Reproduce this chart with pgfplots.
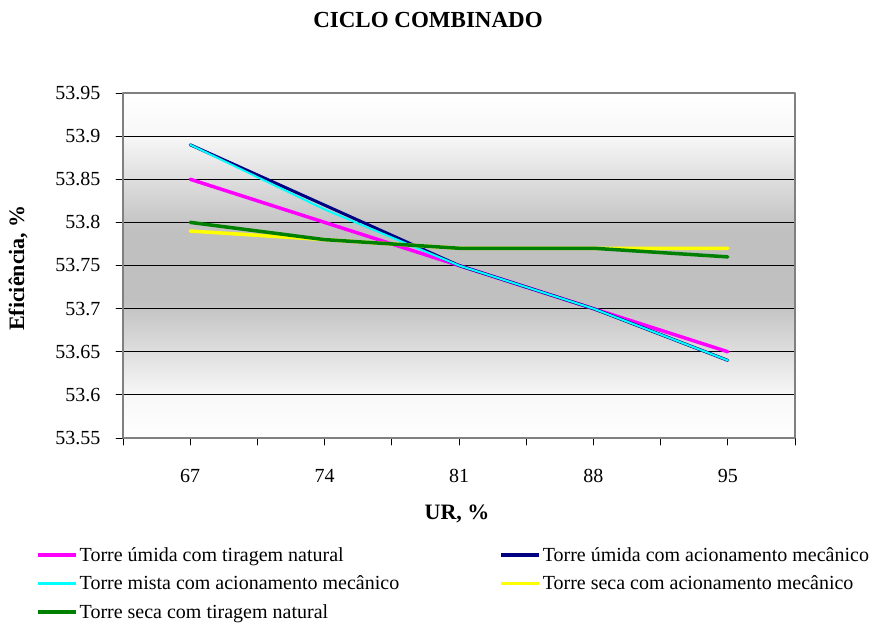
\documentclass[border=0pt]{standalone}
\usepackage{fontspec}
\setmainfont{Liberation Serif}
\usepackage{pgfplots}
\pgfplotsset{compat=1.18}
\definecolor{bggray}{RGB}{192,192,192}
\definecolor{bglight}{RGB}{248,248,248}
\definecolor{cmag}{RGB}{255,0,255}
\definecolor{cnavy}{RGB}{0,0,128}
\definecolor{ccyan}{RGB}{0,255,255}
\definecolor{cyel}{RGB}{255,255,0}
\definecolor{cgreen}{RGB}{0,128,0}
\pgfdeclareverticalshading{bgshade}{100bp}{color(0bp)=(white); color(25bp)=(white); color(31bp)=(bglight); color(45bp)=(bggray); color(55bp)=(bggray); color(69bp)=(bglight); color(75bp)=(white); color(100bp)=(white)}
\begin{document}
\begin{tikzpicture}
\useasboundingbox (-123pt,-186pt) rectangle (754pt,438pt);
\begin{axis}[
 at={(0pt,0pt)}, anchor=south west,
 scale only axis, width=672pt, height=345pt,
 xmin=-0.5, xmax=4.5, ymin=53.55, ymax=53.95,
 xtick={0,1,2,3,4}, xticklabels={67,74,81,88,95},
 minor xtick={-0.5,0.5,1.5,2.5,3.5,4.5},
 ytick={53.55,53.6,53.65,53.7,53.75,53.8,53.85,53.9,53.95},
 yticklabels={53.55,53.6,53.65,53.7,53.75,53.8,53.85,53.9,53.95},
 tick align=outside, xtick pos=bottom, ytick pos=left,
 major tick length=7pt, minor tick length=7pt,
 every tick/.style={black, line width=0.8pt},
 every minor tick/.style={black, line width=0.8pt},
 ymajorgrids, major grid style={black, line width=0.8pt},
 axis line style={draw=gray, line width=1.2pt},
 tick label style={font=\fontsize{20}{24}\selectfont},
 xticklabel style={yshift=-21pt},
 yticklabel style={xshift=-12pt},
 axis background/.style={shade, shading=bgshade},
 legend columns=2,
 legend cell align=left,
 legend image code/.code={\draw[#1, line width=3.5pt] (0pt,0pt) -- (38pt,0pt);},
 legend style={at={(-0.1295,-0.311)}, anchor=north west, draw=none, fill=none,
   font=\fontsize{20}{24}\selectfont, inner sep=0pt, row sep=9pt,
   /tikz/column 2/.style={column sep=98pt}},
 line join=round, line cap=round,
]
\addplot[cmag, line width=3.5pt] coordinates {(0,53.85)(1,53.80)(2,53.75)(3,53.70)(4,53.65)};
\addlegendentry{Torre úmida com tiragem natural}
\addplot[cnavy, line width=3pt] coordinates {(0,53.89)(1,53.82)(2,53.75)(3,53.70)(4,53.64)};
\addlegendentry{Torre úmida com acionamento mecânico}
\addplot[ccyan, line width=2pt] coordinates {(0,53.89)(1,53.815)(2,53.75)(3,53.70)(4,53.64)};
\addlegendentry{Torre mista com acionamento mecânico}
\addplot[cyel, line width=3.5pt] coordinates {(0,53.79)(1,53.78)(2,53.77)(3,53.77)(4,53.77)};
\addlegendentry{Torre seca com acionamento mecânico}
\addplot[cgreen, line width=3.5pt] coordinates {(0,53.80)(1,53.78)(2,53.77)(3,53.77)(4,53.76)};
\addlegendentry{Torre seca com tiragem natural}
\end{axis}
\node[font=\bfseries\fontsize{23}{27}\selectfont] at (305pt,418pt) {CICLO COMBINADO};
\node[font=\bfseries\fontsize{22}{26}\selectfont, rotate=90] at (-105pt,170pt) {Eficiência, \%};
\node[font=\bfseries\fontsize{22}{26}\selectfont] at (334pt,-76pt) {UR, \%};
\end{tikzpicture}
\end{document}
